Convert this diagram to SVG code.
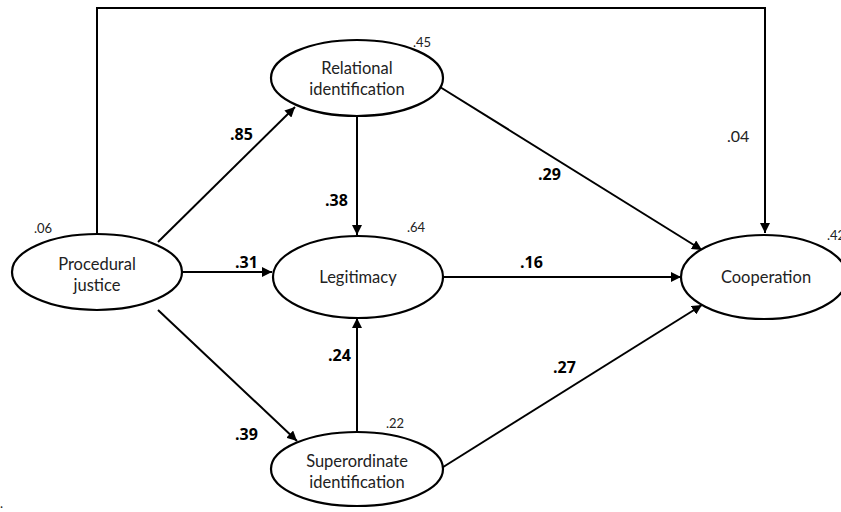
<svg xmlns="http://www.w3.org/2000/svg" width="841" height="512" viewBox="0 0 841 512">
<style>
.n{fill:#fff;stroke:#000;stroke-width:2.2}
.t{font-family:Lato,"Open Sans",sans-serif;font-size:16.5px;fill:#222;text-anchor:middle}
.c{stroke:#000;stroke-width:2;fill:none}
.b{font-family:"Open Sans",Lato,sans-serif;font-size:16px;font-weight:bold;fill:#000}
.s{font-family:Lato,"Open Sans",sans-serif;font-size:13px;fill:#222}
.m{font-family:Lato,"Open Sans",sans-serif;font-size:16px;fill:#222}
</style>
<defs>
<marker id="a" viewBox="0 0 10 10" refX="10" refY="5" markerWidth="5" markerHeight="5" orient="auto" markerUnits="strokeWidth">
<path d="M0,0L10,5L0,10z" fill="#000"/>
</marker>
</defs>
<rect width="841" height="512" fill="#fff"/>
<g id="connectors">
<path class="c" d="M97,234V8H765V233" marker-end="url(#a)"/>
<path class="c" d="M158,242L295,107" marker-end="url(#a)"/>
<path class="c" d="M183,272H272" marker-end="url(#a)"/>
<path class="c" d="M158,310L297,441" marker-end="url(#a)"/>
<path class="c" d="M357,116V235" marker-end="url(#a)"/>
<path class="c" d="M357,432V318" marker-end="url(#a)"/>
<path class="c" d="M440,87L702,250" marker-end="url(#a)"/>
<path class="c" d="M443,277H681" marker-end="url(#a)"/>
<path class="c" d="M440,469L702,305" marker-end="url(#a)"/>
</g>
<g id="procedural">
<ellipse class="n" cx="97" cy="272" rx="85" ry="38"/>
<text class="t" x="97" y="270">Procedural</text>
<text class="t" x="97" y="291">justice</text>
<text class="s" x="34" y="233">.06</text>
</g>
<g id="relational">
<ellipse class="n" cx="357" cy="78" rx="86" ry="38"/>
<text class="t" x="357" y="74">Relational</text>
<text class="t" x="357" y="95">identification</text>
<text class="s" x="413" y="47">.45</text>
</g>
<g id="legitimacy">
<ellipse class="n" cx="358" cy="277" rx="85" ry="41"/>
<text class="t" x="358" y="283">Legitimacy</text>
<text class="s" x="407" y="232">.64</text>
</g>
<g id="superordinate">
<ellipse class="n" cx="357" cy="469" rx="86" ry="37"/>
<text class="t" x="357" y="467">Superordinate</text>
<text class="t" x="357" y="488">identification</text>
<text class="s" x="386" y="428">.22</text>
</g>
<g id="cooperation">
<ellipse class="n" cx="764" cy="277" rx="83" ry="42"/>
<text class="t" x="766" y="283">Cooperation</text>
<text class="s" x="827" y="240">.42</text>
</g>
<g id="labels">
<text class="b" x="230" y="140">.85</text>
<text class="b" x="325" y="206">.38</text>
<text class="b" x="235" y="268">.31</text>
<text class="b" x="328" y="361">.24</text>
<text class="b" x="235" y="440">.39</text>
<text class="b" x="538" y="180">.29</text>
<text class="b" x="520" y="268">.16</text>
<text class="b" x="553" y="373">.27</text>
<text class="m" x="727" y="142">.04</text>
<text class="s" x="0" y="508">.</text>
</g>
</svg>
